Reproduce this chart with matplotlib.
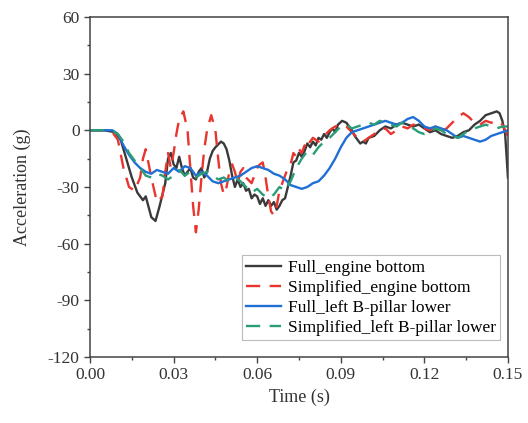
import numpy as np
import matplotlib.pyplot as plt
from matplotlib.ticker import MultipleLocator

# Full_engine bottom
t_full_engine = [0, 0.005, 0.009, 0.011, 0.013, 0.015, 0.017, 0.019, 0.020, 0.022, 0.0235,
                 0.025, 0.027, 0.028, 0.029, 0.030, 0.031, 0.032, 0.033, 0.034, 0.035,
                 0.036, 0.037, 0.038, 0.039, 0.040, 0.041, 0.042, 0.043, 0.044, 0.045,
                 0.047, 0.048, 0.049, 0.050, 0.051, 0.052, 0.053, 0.054, 0.055, 0.056,
                 0.057, 0.058, 0.059, 0.060, 0.061, 0.062, 0.063, 0.064, 0.065, 0.066,
                 0.067, 0.068, 0.069, 0.070, 0.071, 0.072, 0.073, 0.074, 0.075, 0.076,
                 0.077, 0.078, 0.079, 0.080, 0.081, 0.082, 0.083, 0.084, 0.085, 0.086,
                 0.087, 0.088, 0.089, 0.0905, 0.092, 0.093, 0.094, 0.095, 0.096, 0.097,
                 0.098, 0.099, 0.100, 0.102, 0.104, 0.106, 0.108, 0.110, 0.112, 0.114,
                 0.116, 0.118, 0.120, 0.122, 0.124, 0.126, 0.128, 0.130, 0.132, 0.134,
                 0.136, 0.138, 0.140, 0.142, 0.144, 0.146, 0.147, 0.148, 0.149, 0.150]
a_full_engine = [0, 0, -1, -5, -15, -25, -33, -37, -35, -46, -48,
                 -40, -28, -15, -12, -18, -20, -14, -20, -24, -22,
                 -20, -25, -26, -22, -20, -25, -22, -15, -11, -9,
                 -6, -7, -10, -16, -24, -30, -26, -30, -28, -32,
                 -31, -36, -34, -35, -39, -36, -40, -37, -40, -38,
                 -42, -40, -37, -36, -30, -24, -17, -16, -12, -14,
                 -11, -7, -9, -6, -8, -4, -5, -2, -4, -1,
                 1, -1, 3, 5, 4, 2, 0, -3, -5, -7,
                 -6, -7, -4, -3, 0, 2, 1, 3, 4, 3,
                 2, 3, 1, -1, 0, -2, -3, -4, -3, -1,
                 0, 3, 5, 8, 9, 10, 9, 5, -2, -25]

# Simplified_engine bottom
t_simp_engine = [0, 0.005, 0.008, 0.010, 0.012, 0.014, 0.016, 0.018, 0.019, 0.020, 0.022,
                 0.024, 0.026, 0.027, 0.028, 0.029, 0.030, 0.031, 0.032, 0.0335, 0.035,
                 0.036, 0.037, 0.038, 0.039, 0.040, 0.041, 0.042, 0.0435, 0.045, 0.046,
                 0.047, 0.048, 0.049, 0.050, 0.051, 0.052, 0.053, 0.054, 0.055, 0.056,
                 0.058, 0.059, 0.060, 0.061, 0.062, 0.063, 0.064, 0.065, 0.066, 0.067,
                 0.068, 0.069, 0.070, 0.071, 0.072, 0.073, 0.074, 0.075, 0.076, 0.077,
                 0.078, 0.079, 0.080, 0.082, 0.084, 0.086, 0.088, 0.090, 0.092, 0.094,
                 0.096, 0.098, 0.100, 0.102, 0.104, 0.106, 0.108, 0.110, 0.112, 0.114,
                 0.116, 0.118, 0.120, 0.122, 0.124, 0.126, 0.128, 0.130, 0.132, 0.134,
                 0.136, 0.138, 0.140, 0.142, 0.144, 0.146, 0.148, 0.150]
a_simp_engine = [0, 0, -1, -5, -20, -30, -32, -25, -15, -10, -25,
                 -38, -35, -22, -12, -20, -12, -2, 6, 10, 0,
                 -20, -40, -54, -42, -25, -10, 0, 8, 0, -15,
                 -28, -34, -30, -22, -18, -22, -28, -22, -20, -25,
                 -28, -24, -20, -18, -17, -25, -35, -43, -45, -40,
                 -32, -28, -24, -20, -18, -12, -14, -10, -12, -8,
                 -10, -6, -4, -6, -3, 0, 2, 3, 2, -1,
                 -4, -6, -4, -2, 0, 1, -2, 0, 2, 1,
                 3, 2, 1, 0, 2, -1, 1, 4, 7, 9,
                 7, 4, 3, 5, 4, 5, 3, -3]

# Full_left B-pillar lower
t_full_pillar = [0, 0.008, 0.010, 0.012, 0.014, 0.016, 0.018, 0.020, 0.022, 0.024, 0.026,
                 0.028, 0.030, 0.032, 0.034, 0.036, 0.038, 0.040, 0.042, 0.044, 0.046,
                 0.048, 0.050, 0.052, 0.054, 0.056, 0.058, 0.060, 0.062, 0.064, 0.066,
                 0.068, 0.070, 0.072, 0.074, 0.076, 0.078, 0.080, 0.082, 0.084, 0.086,
                 0.088, 0.090, 0.092, 0.094, 0.096, 0.098, 0.100, 0.102, 0.104, 0.106,
                 0.108, 0.110, 0.112, 0.114, 0.116, 0.118, 0.120, 0.122, 0.124, 0.126,
                 0.128, 0.130, 0.132, 0.134, 0.136, 0.138, 0.140, 0.142, 0.144, 0.146,
                 0.148, 0.150]
a_full_pillar = [0, 0, -2, -8, -13, -17, -20, -22, -23, -21, -22,
                 -23, -20, -22, -19, -20, -24, -22, -24, -27, -28,
                 -27, -26, -25, -24, -22, -20, -19, -20, -21, -23,
                 -24, -26, -29, -30, -31, -30, -28, -27, -24, -20,
                 -15, -9, -4, -1, 0, 1, 2, 3, 4, 5,
                 4, 3, 4, 6, 7, 5, 2, 1, 2, 1,
                 0, -2, -4, -3, -4, -5, -6, -5, -3, -2,
                 -1, 0]

# Simplified_left B-pillar lower
t_simp_pillar = t_full_pillar
a_simp_pillar = [0, 0, -2, -6, -12, -16, -20, -24, -25, -23, -24,
                 -26, -24, -21, -24, -22, -25, -23, -22, -24, -26,
                 -25, -27, -25, -27, -30, -33, -31, -34, -36, -34,
                 -30, -32, -27, -20, -15, -11, -13, -9, -6, -4,
                 -1, 2, 3, 1, 2, 3, 4, 3, 5, 4,
                 3, 2, 4, 2, 1, -1, -2, -1, 1, 0,
                 -2, -3, -4, -2, 0, 1, 2, 3, 2, 1,
                 2, 2]

plt.rcParams['font.family'] = ['Liberation Serif', 'DejaVu Serif']
plt.rcParams['font.size'] = 12.5
plt.rcParams['axes.unicode_minus'] = False

fig = plt.figure(figsize=(5.28, 4.23), dpi=100)
ax = fig.add_axes([0.1705, 0.156, 0.7915, 0.804])

ax.plot(t_full_engine, a_full_engine, color='#3a3a3a', lw=1.7, label='Full_engine bottom')
ax.plot(t_simp_engine, a_simp_engine, color='#e8352e', lw=1.7, ls=(0, (6, 4)),
        label='Simplified_engine bottom')
ax.plot(t_full_pillar, a_full_pillar, color='#1f6fd6', lw=1.7, label='Full_left B-pillar lower')
ax.plot(t_simp_pillar, a_simp_pillar, color='#2a9d78', lw=1.7, ls=(0, (6, 4)),
        label='Simplified_left B-pillar lower')

ax.set_xlim(0, 0.15)
ax.set_ylim(-120, 60)
ax.xaxis.set_major_locator(MultipleLocator(0.03))
ax.xaxis.set_minor_locator(MultipleLocator(0.015))
ax.yaxis.set_major_locator(MultipleLocator(30))
ax.yaxis.set_minor_locator(MultipleLocator(15))
ax.xaxis.set_major_formatter(plt.FormatStrFormatter('%.2f'))
ax.tick_params(which='major', direction='out', length=4, width=1, color='#444444',
               labelcolor='#333333')
ax.tick_params(which='minor', direction='out', length=2.5, width=1, color='#444444')
for s in ax.spines.values():
    s.set_color('#444444')
    s.set_linewidth(1.1)

ax.set_xlabel('Time (s)', labelpad=4, fontsize=13, color='#333333')
ax.set_ylabel('Acceleration (g)', labelpad=12, fontsize=13, color='#333333')

leg = ax.legend(loc='lower right', bbox_to_anchor=(0.981, 0.05), borderaxespad=0,
                fancybox=False, handlelength=2.0, handletextpad=0.4,
                labelspacing=0.22, borderpad=0.25, fontsize=12.5)
leg.get_frame().set_edgecolor('#aaaaaa')
leg.get_frame().set_linewidth(0.8)

fig.savefig('out.png', dpi=100)
